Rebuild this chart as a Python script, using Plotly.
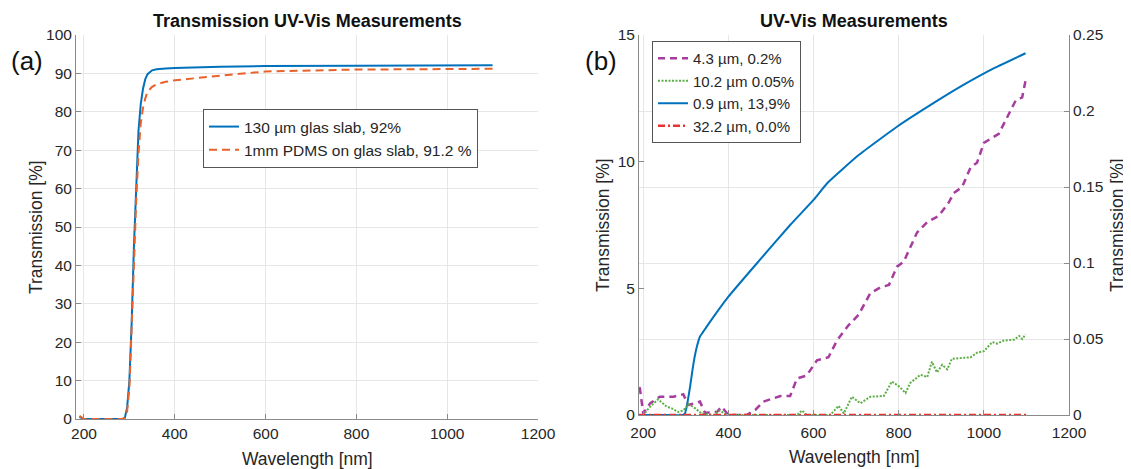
import plotly.graph_objects as go

# page body adds an 8 px margin, so the figure is sized to fit the window
W, H = 1123, 461
OFF = 8

# ---------------- Panel (a) data ----------------
wl_a = [190, 200, 250, 285, 290, 295, 300, 305, 310, 315, 320, 325, 330, 335,
        340, 350, 360, 380, 400, 500, 600, 800, 1000, 1100]
glass_slab = [0.5, 0, 0, 0, 0.3, 3, 10, 25, 45, 62, 75, 82, 86, 88.5,
              89.8, 90.8, 91.1, 91.3, 91.4, 91.7, 91.9, 92.0, 92.0, 92.1]
pdms_on_glass = [0.8, 0, 0, 0, 0.3, 2, 8, 22, 40, 57, 69, 77, 81, 83.5,
                 85.2, 86.5, 87.2, 87.8, 88.2, 89.4, 90.5, 91.0, 91.1, 91.2]

# ---------------- Panel (b) data ----------------
wl_blue = [190, 250, 293, 298, 302, 310, 318, 326, 333, 341, 349, 400, 467, 545, 600, 632, 706,
           796, 875, 945, 1024, 1098]
t_09um = [0, 0, 0, 0.07, 0.33, 1.12, 2.04, 2.7, 3.09, 3.29, 3.49, 4.67, 5.99, 7.5, 8.49, 9.15,
          10.26, 11.38, 12.24, 12.96, 13.69, 14.28]

wl_purple = [190, 192, 200, 216, 239, 271, 294, 306, 333, 345, 373, 384, 400, 443, 463, 482, 506,
             522, 545, 561, 584, 608, 635, 655, 682, 706, 733, 757, 777, 796, 812, 843, 867,
             894, 918, 929, 949, 969, 984, 1000, 1035, 1055, 1075, 1090, 1098]
t_43um = [0.018, 0.0176, 0.001, 0.0077, 0.012, 0.012, 0.0136, 0.0066, 0.0088, 0.0015, 0.002, 0.0055,
          0, 0, 0.0033, 0.0088, 0.011, 0.0125, 0.0125, 0.024, 0.026, 0.036, 0.038, 0.049, 0.059,
          0.066, 0.080, 0.084, 0.0855, 0.0976, 0.101, 0.12, 0.127, 0.131, 0.14, 0.146, 0.150,
          0.163, 0.166, 0.179, 0.185, 0.196, 0.207, 0.209, 0.220]

wl_green = [190, 200, 216, 235, 255, 267, 282, 294, 306, 322, 337, 365, 380, 396, 561, 573, 584,
            639, 659, 671, 690, 710, 733, 765, 784, 800, 816, 827, 851, 867, 878, 890, 902, 914,
            925, 969, 984, 1000, 1020, 1031, 1047, 1071, 1083, 1090, 1098]
t_102um = [0, 0, 0.0055, 0.0103, 0.0055, 0.0044, 0.002, 0.003, 0.0072, 0.0044, 0.001, 0, 0.003, 0,
           0, 0.003, 0, 0, 0.006, 0.001, 0.012, 0.0077, 0.012, 0.0125, 0.022, 0.019, 0.0145, 0.021,
           0.0265, 0.025, 0.035, 0.028, 0.033, 0.030, 0.037, 0.038, 0.041, 0.042, 0.048, 0.047,
           0.049, 0.0495, 0.052, 0.050, 0.053]

wl_red = [190, 1100]
t_322um = [0, 0]

x_ticks = [200, 400, 600, 800, 1000, 1200]
ya_ticks = [0, 10, 20, 30, 40, 50, 60, 70, 80, 90, 100]
yb_left_ticks = [0, 5, 10, 15]
yb_right_ticks = [0, 0.05, 0.1, 0.15, 0.2, 0.25]
yb_right_text = ["0", "0.05", "0.1", "0.15", "0.2", "0.25"]

# ---------------- Styling ----------------
FONT = "Liberation Sans, Arial, sans-serif"
TXT = "#262626"
AX = "#8a8a8a"
GRID = "#e6e6e6"
BLUE = "#0072BD"
ORANGE = "#E8632B"
PURPLE = "#A63D9E"
GREEN = "#5BAE45"
RED = "#EE3030"


def px_x(p):
    return (p - OFF) / W


def px_y(p):
    return 1 - (p - OFF) / H


fig = go.Figure()

# panel (a)
fig.add_trace(go.Scatter(x=wl_a, y=glass_slab, mode="lines", name="130 µm glas slab, 92%",
                         line=dict(color=BLUE, width=2), xaxis="x", yaxis="y", legend="legend"))
fig.add_trace(go.Scatter(x=wl_a, y=pdms_on_glass, mode="lines", name="1mm PDMS on glas slab, 91.2 %",
                         line=dict(color=ORANGE, width=2, dash="8px,5px"), xaxis="x", yaxis="y",
                         legend="legend"))

# panel (b)
fig.add_trace(go.Scatter(x=wl_purple, y=t_43um, mode="lines", name="4.3 µm, 0.2%",
                         line=dict(color=PURPLE, width=2.5, dash="7px,5px"), xaxis="x2", yaxis="y3",
                         legend="legend2"))
fig.add_trace(go.Scatter(x=wl_green, y=t_102um, mode="lines", name="10.2 µm 0.05%",
                         line=dict(color=GREEN, width=2, dash="2px,1.5px"), xaxis="x2", yaxis="y3",
                         legend="legend2"))
fig.add_trace(go.Scatter(x=wl_blue, y=t_09um, mode="lines", name="0.9 µm, 13,9%",
                         line=dict(color=BLUE, width=2, shape="spline", smoothing=0.4),
                         xaxis="x2", yaxis="y2", legend="legend2"))
fig.add_trace(go.Scatter(x=wl_red, y=t_322um, mode="lines", name="32.2 µm, 0.0%",
                         line=dict(color=RED, width=2.5, dash="7px,3px,2px,3px"), xaxis="x2", yaxis="y3",
                         legend="legend2"))

axis_common = dict(showline=True, linecolor=AX, linewidth=1, ticks="inside", ticklen=5,
                   tickcolor=AX, zeroline=False, tickfont=dict(family=FONT, size=15.5, color=TXT),
                   gridcolor=GRID, gridwidth=1, automargin=False)

fig.update_layout(
    width=W, height=H,
    margin=dict(l=0, r=0, t=0, b=0, autoexpand=False),
    paper_bgcolor="white", plot_bgcolor="white",
    font=dict(family=FONT, color=TXT),
    xaxis=dict(domain=[px_x(76), px_x(538)], range=[182.4, 1200], tickvals=x_ticks,
               anchor="y", showgrid=True, **axis_common),
    yaxis=dict(domain=[px_y(419), px_y(35)], range=[0, 100], tickvals=ya_ticks,
               anchor="x", showgrid=True, **axis_common),
    xaxis2=dict(domain=[px_x(639), px_x(1069)], range=[190, 1200], tickvals=x_ticks,
                anchor="y2", showgrid=True, ticklabelstandoff=3, **axis_common),
    yaxis2=dict(domain=[px_y(415), px_y(35)], range=[0, 15], tickvals=yb_left_ticks,
                anchor="x2", showgrid=False, **axis_common),
    yaxis3=dict(range=[0, 0.25], tickvals=yb_right_ticks, ticktext=yb_right_text,
                overlaying="y2", side="right", anchor="x2", showgrid=True, **axis_common),
    legend=dict(x=px_x(203), y=px_y(109), xanchor="left", yanchor="top",
                bgcolor="white", bordercolor="#555555", borderwidth=1,
                font=dict(family=FONT, size=15.5, color=TXT), itemwidth=30, tracegroupgap=0),
    legend2=dict(x=px_x(652), y=px_y(41), xanchor="left", yanchor="top",
                 bgcolor="white", bordercolor="#555555", borderwidth=1,
                 font=dict(family=FONT, size=15, color=TXT), itemwidth=30, tracegroupgap=0),
    showlegend=True,
)


def label(text, x, y, size, color=TXT, angle=0):
    return dict(text=text, x=px_x(x), y=px_y(y), xref="paper", yref="paper",
                xanchor="center", yanchor="middle", showarrow=False, textangle=angle,
                font=dict(family=FONT, size=size, color=color))


ann = [
    label("<b>Transmission UV-Vis Measurements</b>", 307, 21, 18, "#111111"),
    label("<b>UV-Vis Measurements</b>", 854, 21, 18, "#111111"),
    label("(a)", 27, 61, 26, "#111111"),
    label("(b)", 601, 61, 26, "#111111"),
    label("Wavelength [nm]", 307, 459, 17.5),
    label("Wavelength [nm]", 854, 457, 17.5),
    label("Transmission [%]", 36, 227, 17.5, angle=-90),
    label("Transmission [%]", 603, 225, 17.5, angle=-90),
    label("Transmission [%]", 1117, 225, 17.5, angle=-90),
]
fig.update_layout(annotations=ann)

fig.write_html("out.html")
